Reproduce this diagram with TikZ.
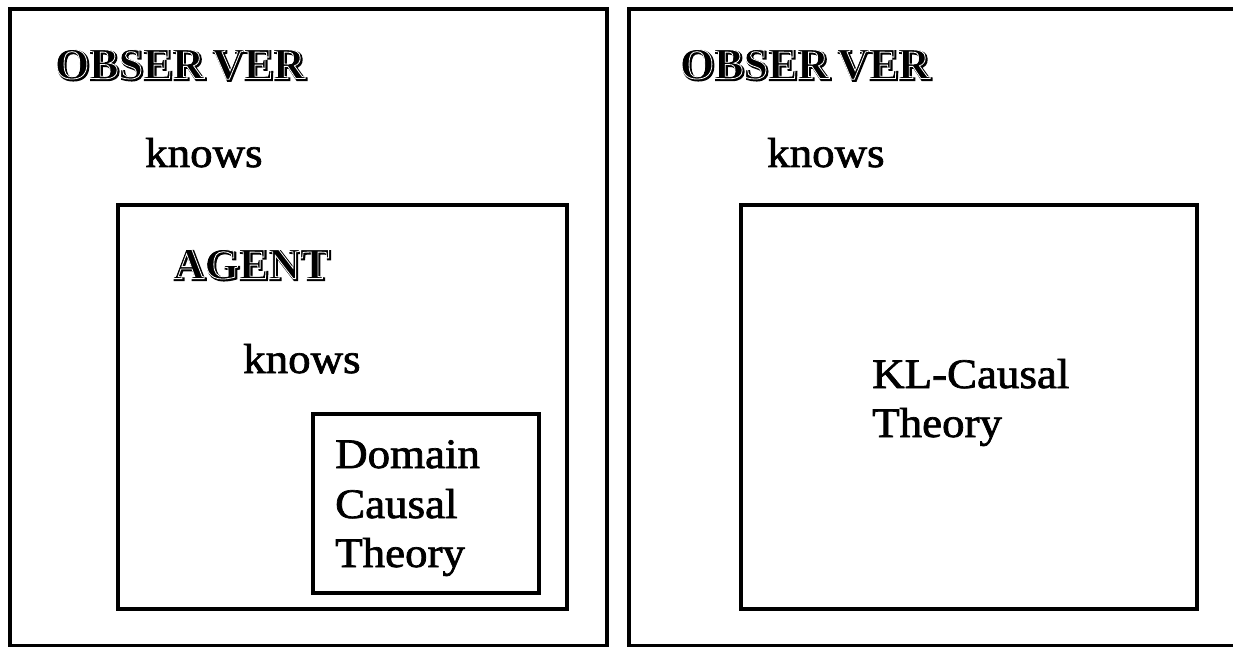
\documentclass[tikz,border=0pt]{standalone}
\usepackage{fontspec}
\setmainfont{Liberation Serif}
\tikzset{
  box/.style={draw=black, line width=4.5pt},
  txt/.style={anchor=base west, inner sep=0pt, font=\fontsize{42}{50}\selectfont, xscale=1.07},
  head/.style={anchor=base west, inner sep=0pt, font=\fontsize{44}{50}\selectfont\bfseries},
  headline/.style={head, text=white},
}
\newcommand{\heavyon}{\special{pdf:literal direct 2 Tr 2.2 w}}
\newcommand{\mediumon}{\special{pdf:literal direct 2 Tr 0.7 w}}
\newcommand{\strokeon}{\special{pdf:literal direct 1 Tr 0.8 w}}
\newcommand{\strokeoff}{\special{pdf:literal direct 0 Tr}}
\newcommand{\obs}{OBSER\kern8pt VER}
\begin{document}
\begin{tikzpicture}[x=1pt,y=-1pt]
\useasboundingbox (0,0) rectangle (1233,647);
\fill[white] (0,0) rectangle (1233,647);
% boxes
\draw[box] (10,9) rectangle (607,646);
\draw[box] (629,9) rectangle (1250,646);
\draw[box] (118,205) rectangle (567,609);
\draw[box] (313,414) rectangle (539,593);
\draw[box] (741,205) rectangle (1197,609);
% headers
\node[head] (obsL) at (56,80) {\heavyon\obs\strokeoff};
\node[headline] (obsLw) at (54.6,78.6) {\strokeon\obs\strokeoff};
\node[head] (agent) at (174,280) {\heavyon AGENT\strokeoff};
\node[headline] (agentw) at (172.6,278.6) {\strokeon AGENT\strokeoff};
\node[head] (obsR) at (681,80) {\heavyon\obs\strokeoff};
\node[headline] (obsRw) at (679.6,78.6) {\strokeon\obs\strokeoff};
% texts
\node[txt] (knowsL) at (145,167) {\mediumon knows\strokeoff};
\node[txt] (knowsA) at (243,373) {\mediumon knows\strokeoff};
\node[txt] (knowsR) at (767,167) {\mediumon knows\strokeoff};
\node[txt] (dom1) at (335,468) {\mediumon Domain\strokeoff};
\node[txt] (dom2) at (335,518) {\mediumon Causal\strokeoff};
\node[txt] (dom3) at (335,567) {\mediumon Theory\strokeoff};
\node[txt] (kl1) at (872,388) {\mediumon KL-Causal\strokeoff};
\node[txt] (kl2) at (872,437) {\mediumon Theory\strokeoff};
\end{tikzpicture}
\end{document}
